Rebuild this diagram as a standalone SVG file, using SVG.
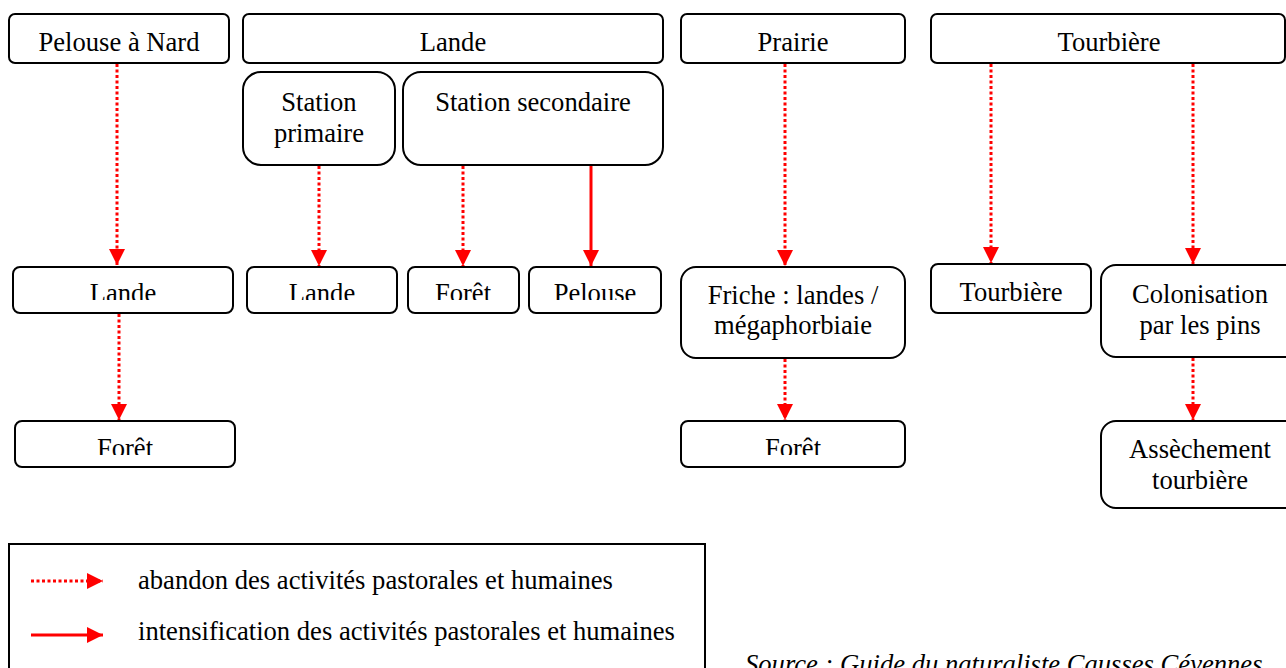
<svg xmlns="http://www.w3.org/2000/svg" width="1286" height="668" viewBox="0 0 1286 668">
<style>
.box{fill:#fff;stroke:#000;stroke-width:2}
.t{font-family:"Liberation Serif","Times New Roman",serif;font-size:26.6px;fill:#000;text-anchor:middle}
.tl{font-family:"Liberation Serif","Times New Roman",serif;font-size:26.6px;fill:#000}
.src{font-family:"Liberation Serif","Times New Roman",serif;font-size:26.6px;font-style:italic;fill:#000}
.dot{stroke:#ff0000;stroke-width:3;stroke-dasharray:3 2.5;fill:none}
.solid{stroke:#ff0000;stroke-width:3;fill:none}
</style>
<defs>
<marker id="ah" markerUnits="userSpaceOnUse" markerWidth="16" markerHeight="16" viewBox="0 0 16 16" refX="16" refY="8" orient="auto">
<path d="M0,0 L16,8 L0,16 Z" fill="#ff0000"/>
</marker>
<clipPath id="c1"><rect x="0" y="260" width="1286" height="40"/></clipPath>
<clipPath id="c2"><rect x="0" y="415" width="1286" height="40"/></clipPath>
</defs>
<rect width="1286" height="668" fill="#fff"/>

<g id="n1"><rect class="box" x="9" y="14" width="220" height="49" rx="6"/><text class="t" x="119" y="51">Pelouse à Nard</text></g>
<g id="n2"><rect class="box" x="243" y="14" width="420" height="49" rx="6"/><text class="t" x="453" y="51">Lande</text></g>
<g id="n3"><rect class="box" x="243" y="72" width="152" height="93" rx="18"/><text class="t" x="319" y="111">Station</text><text class="t" x="319" y="142">primaire</text></g>
<g id="n4"><rect class="box" x="403" y="72" width="260" height="93" rx="18"/><text class="t" x="533" y="111">Station secondaire</text></g>
<g id="n5"><rect class="box" x="681" y="14" width="224" height="49" rx="6"/><text class="t" x="793" y="51">Prairie</text></g>
<g id="n6"><rect class="box" x="931" y="14" width="354" height="49" rx="6"/><text class="t" x="1109" y="51">Tourbière</text></g>

<g id="n7"><rect class="box" x="13" y="267" width="220" height="46" rx="7"/><text class="t" x="123" y="302" clip-path="url(#c1)">Lande</text></g>
<g id="n8"><rect class="box" x="247" y="267" width="150" height="46" rx="7"/><text class="t" x="322" y="302" clip-path="url(#c1)">Lande</text></g>
<g id="n9"><rect class="box" x="408" y="267" width="111" height="46" rx="7"/><text class="t" x="463" y="302" clip-path="url(#c1)">Forêt</text></g>
<g id="n10"><rect class="box" x="529" y="267" width="132" height="46" rx="7"/><text class="t" x="595" y="302" clip-path="url(#c1)">Pelouse</text></g>
<g id="n11"><rect class="box" x="681" y="267" width="224" height="91" rx="15"/><text class="t" x="793" y="304">Friche : landes /</text><text class="t" x="793" y="334">mégaphorbiaie</text></g>
<g id="n12"><rect class="box" x="931" y="264" width="160" height="49" rx="7"/><text class="t" x="1011" y="301">Tourbière</text></g>
<g id="n13"><rect class="box" x="1101" y="265" width="200" height="92" rx="15"/><text class="t" x="1200" y="303">Colonisation</text><text class="t" x="1200" y="334">par les pins</text></g>

<g id="n14"><rect class="box" x="15" y="421" width="220" height="46" rx="7"/><text class="t" x="125" y="457" clip-path="url(#c2)">Forêt</text></g>
<g id="n15"><rect class="box" x="681" y="421" width="224" height="46" rx="7"/><text class="t" x="793" y="457" clip-path="url(#c2)">Forêt</text></g>
<g id="n16"><rect class="box" x="1101" y="421" width="200" height="87" rx="15"/><text class="t" x="1200" y="458">Assèchement</text><text class="t" x="1200" y="489">tourbière</text></g>

<g id="connectors">
<line class="dot" x1="117" y1="64" x2="117" y2="265" marker-end="url(#ah)"/>
<line class="dot" x1="319" y1="166" x2="319" y2="266" marker-end="url(#ah)"/>
<line class="dot" x1="463" y1="166" x2="463" y2="266" marker-end="url(#ah)"/>
<line class="solid" x1="591" y1="166" x2="591" y2="266" marker-end="url(#ah)"/>
<line class="dot" x1="119" y1="314" x2="119" y2="420" marker-end="url(#ah)"/>
<line class="dot" x1="785" y1="64" x2="785" y2="266" marker-end="url(#ah)"/>
<line class="dot" x1="785" y1="359" x2="785" y2="420" marker-end="url(#ah)"/>
<line class="dot" x1="991" y1="64" x2="991" y2="263" marker-end="url(#ah)"/>
<line class="dot" x1="1193" y1="64" x2="1193" y2="264" marker-end="url(#ah)"/>
<line class="dot" x1="1193" y1="358" x2="1193" y2="420" marker-end="url(#ah)"/>
</g>

<g id="legend">
<rect x="9" y="544" width="696" height="140" fill="none" stroke="#000" stroke-width="2"/>
<line class="dot" x1="31" y1="581" x2="103" y2="581" marker-end="url(#ah)"/>
<text class="tl" x="138" y="589">abandon des activités pastorales et humaines</text>
<line class="solid" x1="31" y1="635" x2="103" y2="635" marker-end="url(#ah)"/>
<text class="tl" x="138" y="640">intensification des activités pastorales et humaines</text>
</g>
<text class="src" x="745" y="673">Source : Guide du naturaliste Causses Cévennes</text>
</svg>
